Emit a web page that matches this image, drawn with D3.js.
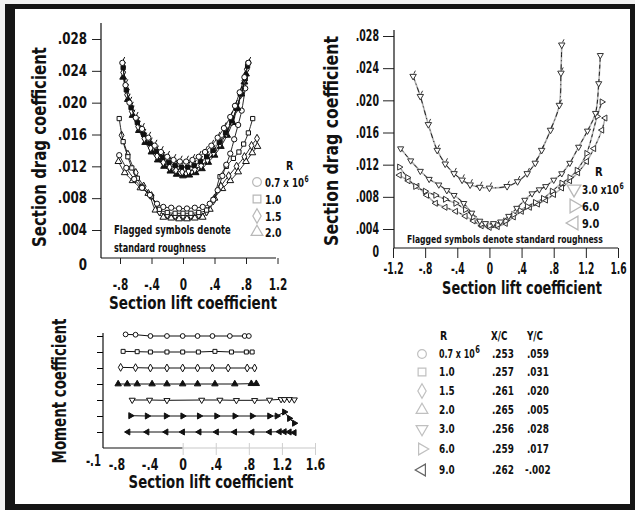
<!DOCTYPE html>
<html>
<head>
<meta charset="utf-8">
<script src="https://cdn.jsdelivr.net/npm/d3@7"></script>
<style>
  html, body { margin: 0; padding: 0; background: #fff; }
  svg { display: block; }
  text { font-family: 'DejaVu Sans Condensed', 'Liberation Sans Narrow', 'Arial Narrow', sans-serif; font-weight: bold; fill: #111; }
</style>
</head>
<body>
<script>
// ---------- tick values and labels ----------
const dragTicks = [0, 0.004, 0.008, 0.012, 0.016, 0.020, 0.024, 0.028];
const dragTickLabels = ["0", ".004", ".008", ".012", ".016", ".020", ".024", ".028"];
const liftTicksLeft = [-0.8, -0.4, 0, 0.4, 0.8, 1.2];
const liftLabelsLeft = ["-.8", "-.4", "0", ".4", ".8", "1.2"];
const liftTicksRight = [-1.2, -0.8, -0.4, 0, 0.4, 0.8, 1.2, 1.6];
const liftLabelsRight = ["-1.2", "-.8", "-.4", "0", ".4", ".8", "1.2", "1.6"];
const liftTicksMoment = [-0.8, -0.4, 0, 0.4, 0.8, 1.2, 1.6];
const liftLabelsMoment = ["-.8", "-.4", "0", ".4", ".8", "1.2", "1.6"];

// ---------- drag polars, R = 0.7 to 2.0 million: [cl, cd] ----------
const smooth07 = [[-0.81,.0134],[-0.72,.0118],[-0.62,.0104],[-0.52,.0093],[-0.42,.0084],[-0.33,.0073],[-0.25,.0069],[-0.15,.0068],[-0.05,.0067],[0.05,.0067],[0.15,.0068],[0.25,.0069],[0.34,.0073],[0.385,.0078],[0.44,.0090],[0.50,.0108],[0.55,.0122],[0.60,.0136],[0.65,.0154],[0.70,.0172],[0.745,.0190],[0.79,.0218],[0.83,.0250]];
const smooth10 = [[-0.81,.0180],[-0.76,.0151],[-0.70,.0132],[-0.65,.0118],[-0.58,.0105],[-0.52,.0094],[-0.40,.0082],[-0.30,.0066],[-0.20,.0062],[-0.10,.0061],[0.00,.0061],[0.10,.0061],[0.20,.0062],[0.30,.0065],[0.385,.0078],[0.47,.0107],[0.55,.0120],[0.64,.0130],[0.71,.0138],[0.77,.0148],[0.83,.0162],[0.885,.0180]];
const smooth15 = [[-0.78,.0159],[-0.70,.0135],[-0.60,.0112],[-0.50,.0095],[-0.40,.0083],[-0.30,.0063],[-0.20,.0059],[-0.10,.0058],[0.00,.0058],[0.10,.0058],[0.20,.0059],[0.30,.0063],[0.385,.0077],[0.48,.0095],[0.58,.0108],[0.68,.0120],[0.78,.0132],[0.87,.0146],[0.94,.0155]];
const smooth20 = [[-0.82,.0126],[-0.74,.0112],[-0.64,.0102],[-0.54,.0093],[-0.44,.0086],[-0.35,.0065],[-0.25,.0056],[-0.15,.0055],[-0.05,.0054],[0.05,.0054],[0.15,.0055],[0.25,.0056],[0.34,.0066],[0.40,.0080],[0.50,.0092],[0.60,.0102],[0.70,.0113],[0.80,.0126],[0.88,.0137],[0.945,.0145]];
const rough07 = [[-0.77,.0250],[-0.73,.0222],[-0.68,.0200],[-0.60,.0181],[-0.52,.0167],[-0.44,.0156],[-0.36,.0146],[-0.28,.0138],[-0.20,.0132],[-0.12,.0128],[-0.04,.0126],[0.04,.0126],[0.12,.0128],[0.20,.0132],[0.28,.0138],[0.36,.0146],[0.44,.0156],[0.52,.0168],[0.60,.0182],[0.66,.0196],[0.72,.0213],[0.78,.0232],[0.83,.0250]];
const rough10 = [[-0.76,.0244],[-0.72,.0216],[-0.66,.0194],[-0.58,.0175],[-0.50,.0160],[-0.42,.0149],[-0.34,.0139],[-0.26,.0131],[-0.18,.0125],[-0.10,.0121],[-0.02,.0119],[0.06,.0119],[0.14,.0121],[0.22,.0126],[0.30,.0132],[0.38,.0140],[0.46,.0150],[0.54,.0162],[0.62,.0177],[0.68,.0193],[0.74,.0211],[0.79,.0230],[0.82,.0246]];
const rough15 = [[-0.76,.0238],[-0.71,.0210],[-0.65,.0189],[-0.57,.0170],[-0.49,.0155],[-0.41,.0143],[-0.33,.0133],[-0.25,.0125],[-0.17,.0119],[-0.09,.0115],[-0.01,.0113],[0.07,.0114],[0.15,.0116],[0.23,.0121],[0.31,.0128],[0.39,.0137],[0.47,.0148],[0.55,.0161],[0.62,.0176],[0.68,.0193],[0.73,.0210],[0.78,.0228],[0.81,.0242]];
const rough20 = [[-0.76,.0232],[-0.70,.0204],[-0.64,.0184],[-0.56,.0165],[-0.48,.0150],[-0.40,.0138],[-0.32,.0128],[-0.24,.0120],[-0.16,.0114],[-0.08,.0110],[0.00,.0108],[0.08,.0109],[0.16,.0112],[0.24,.0117],[0.32,.0125],[0.40,.0134],[0.48,.0145],[0.56,.0159],[0.63,.0175],[0.69,.0193],[0.74,.0211],[0.78,.0226],[0.80,.0236]];

// ---------- drag polars, R = 3.0 to 9.0 million ----------
const smooth30 = [[-1.105,.0140],[-0.98,.0125],[-0.86,.0112],[-0.75,.0102],[-0.63,.0095],[-0.53,.0088],[-0.44,.0082],[-0.32,.0072],[-0.22,.0060],[-0.12,.0050],[-0.05,.0047],[0.05,.0047],[0.14,.0049],[0.24,.0056],[0.34,.0066],[0.44,.0076],[0.53,.0084],[0.62,.0089],[0.70,.0093],[0.80,.0101],[0.90,.0109],[1.00,.0122],[1.11,.0142],[1.22,.0162],[1.32,.0184],[1.36,.0221],[1.38,.0256]];
const smooth60 = [[-1.12,.0117],[-1.02,.0104],[-0.92,.0093],[-0.80,.0087],[-0.67,.0082],[-0.55,.0077],[-0.42,.0072],[-0.30,.0064],[-0.20,.0055],[-0.10,.0046],[0.00,.0044],[0.10,.0045],[0.20,.0050],[0.30,.0058],[0.38,.0063],[0.47,.0068],[0.57,.0073],[0.67,.0078],[0.78,.0087],[0.90,.0097],[1.00,.0104],[1.09,.0113],[1.21,.0134],[1.34,.0180],[1.40,.0198]];
const smooth90 = [[-1.12,.0107],[-1.01,.0100],[-0.90,.0093],[-0.78,.0082],[-0.67,.0072],[-0.55,.0067],[-0.42,.0062],[-0.30,.0056],[-0.20,.0050],[-0.10,.0044],[0.00,.0042],[0.10,.0043],[0.20,.0047],[0.30,.0055],[0.40,.0062],[0.50,.0067],[0.60,.0071],[0.70,.0076],[0.80,.0083],[0.90,.0091],[1.00,.0100],[1.10,.0110],[1.21,.0124],[1.30,.0140],[1.40,.0163],[1.44,.0178]];
const rough30 = [[-0.95,.0230],[-0.86,.0205],[-0.76,.0170],[-0.65,.0138],[-0.55,.0121],[-0.44,.0109],[-0.34,.0101],[-0.24,.0095],[-0.12,.0092],[0.00,.0091],[0.22,.0093],[0.35,.0099],[0.47,.0109],[0.57,.0122],[0.65,.0138],[0.76,.0163],[0.87,.0194],[0.89,.0234],[0.90,.0269]];

// ---------- pitching moment, one row per Reynolds number: [cl, cm] ----------
const moment07 = [[-0.69,.010],[-0.57,.008],[-0.39,0],[-0.19,0],[0,0],[0.18,0],[0.36,0],[0.57,0],[0.75,0],[0.80,0]];
const moment10 = [[-0.72,.004],[-0.55,.002],[-0.39,0],[-0.19,0],[0,0],[0.19,0],[0.39,.004],[0.59,0],[0.77,0],[0.84,0]];
const moment15 = [[-0.75,.004],[-0.57,.002],[-0.39,0],[-0.19,0],[0,0],[0.18,0],[0.36,0],[0.55,0],[0.78,0],[0.87,0]];
const moment20 = [[-0.78,0],[-0.67,0],[-0.55,0],[-0.37,0],[-0.19,0],[0,0],[0.18,0],[0.39,0],[0.63,0],[0.83,.002],[0.89,.002]];
const moment30 = [[-0.61,0],[-0.40,0],[-0.19,-.002],[0.23,0],[0.45,0],[0.65,-.002],[0.87,-.002],[1.05,0],[1.19,.004],[1.23,.004],[1.29,.004],[1.35,.002]];
const moment60 = [[-0.63,.002],[-0.43,0],[-0.20,0],[0,0],[0.20,0],[0.41,0],[0.63,0],[0.84,0],[1.05,0],[1.14,0],[1.23,.025],[1.29,-.015],[1.35,-.045]];
const moment90 = [[-0.66,0],[-0.43,0],[-0.20,0],[0,0],[0.20,0],[0.41,0],[0.63,0],[0.84,0],[1.05,0],[1.17,.002],[1.23,.002],[1.29,0],[1.35,-.004]];

// ---------- legend / table text ----------
const legendLeftR = ["0.7", "1.0", "1.5", "2.0"];
const legendRightR = ["3.0", "6.0", "9.0"];
const tableR = ["0.7", "1.0", "1.5", "2.0", "3.0", "6.0", "9.0"];
const tableXC = [".253", ".257", ".261", ".265", ".256", ".259", ".262"];
const tableYC = [".059", ".031", ".020", ".005", ".028", ".017", "-.002"];

// ---------- canvas and frame ----------
const W = 635, H = 510;
const svg = d3.select("body").append("svg").attr("width", W).attr("height", H);
svg.append("rect").attr("width", W).attr("height", H).attr("fill", "#f2f2f2");
svg.append("rect").attr("x", 5).attr("y", 4).attr("width", 630).attr("height", 506).attr("fill", "#151515");
svg.append("rect").attr("x", 15).attr("y", 9).attr("width", 615).attr("height", 495).attr("fill", "#fff");

// squeeze text horizontally (condensed face) around its anchor point
function fit(sel, f) {
  sel.each(function () {
    const el = d3.select(this);
    const x = +el.attr("x") || 0, y = +el.attr("y") || 0;
    el.attr("x", null).attr("y", null)
      .attr("transform", `translate(${x},${y}) scale(${f},1)`);
  });
}
// plain label with squeeze; returns its right edge
function label(parent, txt, x, y, size, f, anchor) {
  const t = parent.append("text").text(txt).attr("x", x).attr("y", y)
    .attr("font-size", size).attr("text-anchor", anchor || "start");
  const w = t.node().getComputedTextLength() * f;
  t.call(fit, f);
  return x + w;
}
// label followed by a superscript exponent
function labelExp(parent, txt, exp, x, y, size, f, expSize) {
  const end = label(parent, txt, x, y, size, f);
  label(parent, exp, end + 0.5, y - 5, expSize, f);
}

// ---------- marker helpers ----------
const shapes = {
  circle:  { type: d3.symbolCircle,   rot: 0 },
  square:  { type: d3.symbolSquare,   rot: 0 },
  diamond: { type: d3.symbolDiamond,  rot: 0 },
  up:      { type: d3.symbolTriangle, rot: 0 },
  down:    { type: d3.symbolTriangle, rot: 180 },
  right:   { type: d3.symbolTriangle, rot: 90 },
  left:    { type: d3.symbolTriangle, rot: -90 }
};
function marker(g, shape, cx, cy, size, st) {
  const s = shapes[shape];
  g.append("path")
    .attr("d", d3.symbol().type(s.type).size(size)())
    .attr("transform", `translate(${cx},${cy}) rotate(${s.rot})`)
    .attr("fill", st.fill || "#fff")
    .attr("stroke", st.stroke || "#111")
    .attr("stroke-width", st.sw || 1);
  if (st.flag) {
    const r = Math.sqrt(size) * 0.6;
    g.append("line")
      .attr("x1", cx + r * 0.3).attr("y1", cy - r)
      .attr("x2", cx + r * 0.3 + 1.5).attr("y2", cy - r - 3)
      .attr("stroke", st.stroke || "#111").attr("stroke-width", 1);
  }
}

function drawSeries(g, x, y, s) {
  const line = d3.line().x(d => x(d[0])).y(d => y(d[1])).curve(d3.curveCatmullRom.alpha(0.5));
  if (s.under) {
    g.append("path").attr("d", line(s.data)).attr("fill", "none")
      .attr("stroke", s.under).attr("stroke-width", 1.6);
  }
  g.append("path").attr("d", line(s.data)).attr("fill", "none")
    .attr("stroke", s.stroke).attr("stroke-width", s.width)
    .attr("stroke-dasharray", s.dash || null);
  s.data.forEach(d => marker(g, s.shape, x(d[0]), y(d[1]), s.size, s.marker));
}

// ---------- drag panel ----------
function dragPanel(p) {
  const x = d3.scaleLinear().domain(p.xDomain).range(p.xRange);
  const y = d3.scaleLinear().domain([0, 0.004, 0.028]).range(p.yRange);
  const g = svg.append("g");

  const ya = g.append("g").attr("transform", `translate(${p.axisX},0)`)
    .call(d3.axisLeft(y).tickValues(dragTicks)
      .tickFormat((d, i) => dragTickLabels[i]).tickSize(p.yTickLen).tickPadding(p.yPad))
    .attr("font-size", 15);
  ya.select(".domain").remove();
  ya.selectAll(".tick").filter(d => d === 0).select("line").remove();
  ya.selectAll(".tick").filter(d => d === 0).select("text").attr("dy", p.zeroDy);
  ya.selectAll(".tick line").attr("stroke", "#222");
  ya.selectAll("text").call(fit, p.yFit);

  const xa = g.append("g").attr("transform", `translate(0,${y(0)})`)
    .call(d3.axisBottom(x).tickValues(p.xTicks)
      .tickFormat((d, i) => p.xLabels[i]).tickSize(p.xTickLen).tickPadding(p.xPad))
    .attr("font-size", 15);
  xa.select(".domain").remove();
  xa.selectAll(".tick line").attr("stroke", "#222");
  xa.selectAll("text").call(fit, p.xFit);

  g.append("line").attr("x1", p.axisX).attr("x2", p.axisX)
    .attr("y1", p.axisTop).attr("y2", y(0)).attr("stroke", "#111").attr("stroke-width", 1.2);
  g.append("line").attr("x1", p.axisX).attr("x2", p.axisRight)
    .attr("y1", y(0)).attr("y2", y(0)).attr("stroke", "#111").attr("stroke-width", 1.2);

  p.series.forEach(s => drawSeries(g, x, y, s));
  return { x, y, g };
}

const openM = { fill: "#fff", stroke: "#111" };
const darkM = { fill: "#111", stroke: "#111", flag: true };
const flagOpen = { fill: "#fff", stroke: "#111", flag: true };

dragPanel({
  xDomain: [-0.8, 1.2], xRange: [120, 277.5],
  yRange: [258, 230, 39],
  axisX: 101, axisTop: 23, axisRight: 276,
  yTickLen: 9, yPad: 5, zeroDy: "0.75em", yFit: 0.88,
  xTicks: liftTicksLeft, xLabels: liftLabelsLeft, xTickLen: 6, xPad: 15, xFit: 0.78,
  series: [
    { data: smooth20, shape: "up",      size: 20, stroke: "#111", width: 0.9, marker: openM },
    { data: smooth15, shape: "diamond", size: 20, stroke: "#111", width: 0.9, marker: openM },
    { data: smooth10, shape: "square",  size: 18, stroke: "#111", width: 0.9, marker: openM },
    { data: smooth07, shape: "circle",  size: 22, stroke: "#111", width: 0.9, marker: openM },
    { data: rough20,  shape: "up",      size: 20, stroke: "#111", width: 0.9, marker: darkM },
    { data: rough15,  shape: "diamond", size: 20, stroke: "#111", width: 0.9, marker: flagOpen },
    { data: rough10,  shape: "square",  size: 18, stroke: "#111", width: 0.9, marker: darkM },
    { data: rough07,  shape: "circle",  size: 22, stroke: "#111", width: 0.9, marker: flagOpen }
  ]
});

dragPanel({
  xDomain: [-1.2, 1.6], xRange: [393, 618],
  yRange: [248, 229, 36],
  axisX: 394, axisTop: 30, axisRight: 618,
  yTickLen: 11, yPad: 4, zeroDy: "0.55em", yFit: 0.7,
  xTicks: liftTicksRight, xLabels: liftLabelsRight, xTickLen: 10, xPad: 5, xFit: 0.68,
  series: [
    { data: smooth90, shape: "left",  size: 16, stroke: "#222", under: "#b5b5b5", width: 1, dash: "2,4", marker: { fill: "#fff", stroke: "#333" } },
    { data: smooth60, shape: "right", size: 16, stroke: "#222", under: "#b5b5b5", width: 1, dash: "3,3", marker: { fill: "#fff", stroke: "#333" } },
    { data: smooth30, shape: "down",  size: 16, stroke: "#222", under: "#b5b5b5", width: 1, dash: "4,3", marker: { fill: "#fff", stroke: "#333" } },
    { data: rough30,  shape: "down",  size: 18, stroke: "#222", under: "#b0b0b0", width: 1, dash: "5,3,1,3", marker: { fill: "#fff", stroke: "#333", flag: true } }
  ]
});

// ---------- axis titles (squeezed to a set length) ----------
function title(txt, x, y, size, len, rotate) {
  const t = svg.append("text").text(txt).attr("text-anchor", "middle").attr("font-size", size);
  const f = len / t.node().getComputedTextLength();
  t.attr("transform", `translate(${x},${y})` + (rotate ? " rotate(-90)" : "") + ` scale(${f},1)`);
}
title("Section drag coefficient", 46, 147, 19, 200, true);
title("Section lift coefficient", 193, 309, 18, 168, false);
title("Section drag coefficient", 338, 141, 19, 210, true);
title("Section lift coefficient", 522, 294, 18, 160, false);
title("Moment coefficient", 66, 391, 19, 145, true);
title("Section lift coefficient", 211, 488, 18, 165, false);

// ---------- drag legends ----------
const legendLeftShapes = ["circle", "square", "diamond", "up"];
const legendLeftY = [182, 199, 216, 232];
label(svg, "R", 286, 170, 13, 0.8);
legendLeftR.forEach((r, i) => {
  marker(svg, legendLeftShapes[i], 257, legendLeftY[i], 60, { fill: "#fff", stroke: "#b8b8b8", sw: 1.2 });
  if (i === 0) labelExp(svg, r + " x 10", "6", 265, legendLeftY[i] + 5, 13, 0.74, 9);
  else label(svg, r, 265, legendLeftY[i] + 5, 13, 0.8);
});
function fixedText(txt, x, y, size, len) {
  const t = svg.append("text").text(txt).attr("font-size", size);
  const f = len / t.node().getComputedTextLength();
  t.attr("transform", `translate(${x},${y}) scale(${f},1)`);
}
fixedText("Flagged symbols denote", 114, 234, 12, 117);
fixedText("standard roughness", 114, 252, 12, 92);

const legendRightShapes = ["down", "right", "left"];
const legendRightY = [189, 206, 223];
label(svg, "R", 595, 176, 13, 0.85);
legendRightR.forEach((r, i) => {
  marker(svg, legendRightShapes[i], 574, legendRightY[i], 80, { fill: "#fff", stroke: "#b8b8b8", sw: 1.3 });
  if (i === 0) labelExp(svg, r + " x10", "6", 582, legendRightY[i] + 5, 13, 0.76, 9);
  else label(svg, r, 582, legendRightY[i] + 5, 13, 0.84);
});
fixedText("Flagged symbols denote standard roughness", 407, 243, 11, 196);

// ---------- moment panel ----------
(function () {
  const x = d3.scaleLinear().domain([-0.8, 1.6]).range([116.5, 315]);
  const y = d3.scaleLinear().domain([-0.1, 0.6]).range([448, 336]);
  const g = svg.append("g");
  const rows = [
    { data: moment07, shape: "circle",  m: openM, size: 18 },
    { data: moment10, shape: "square",  m: openM, size: 16 },
    { data: moment15, shape: "diamond", m: openM, size: 18 },
    { data: moment20, shape: "up",      m: { fill: "#111", stroke: "#111" }, size: 18 },
    { data: moment30, shape: "down",    m: { fill: "#fff", stroke: "#111" }, size: 16 },
    { data: moment60, shape: "right",   m: { fill: "#111", stroke: "#111" }, size: 16 },
    { data: moment90, shape: "left",    m: { fill: "#111", stroke: "#111" }, size: 16 }
  ];
  // each row is stacked 0.1 apart so the curves do not overlap
  const rowBase = i => 0.6 - 0.1 * i;

  const ya = g.append("g").attr("transform", "translate(103,0)")
    .call(d3.axisLeft(y).tickValues(rows.map((r, i) => rowBase(i))).tickFormat("").tickSize(6));
  ya.select(".domain").remove();
  g.append("line").attr("x1", 103).attr("x2", 103).attr("y1", 333).attr("y2", y(-0.1))
    .attr("stroke", "#111").attr("stroke-width", 1.2);
  g.append("line").attr("x1", 103).attr("x2", x(0)).attr("y1", y(-0.1)).attr("y2", y(-0.1))
    .attr("stroke", "#111").attr("stroke-width", 1.2);
  g.append("line").attr("x1", x(0)).attr("x2", 316).attr("y1", y(-0.1)).attr("y2", y(-0.1))
    .attr("stroke", "#c8c8c8").attr("stroke-width", 1.2);

  const xa = g.append("g").attr("transform", `translate(0,${y(-0.1) - 5})`)
    .call(d3.axisBottom(x).tickValues(liftTicksMoment)
      .tickFormat((d, i) => liftLabelsMoment[i]).tickSize(12).tickPadding(4))
    .attr("font-size", 15);
  xa.select(".domain").remove();
  xa.selectAll(".tick line").attr("stroke", d => d >= 0 ? "#cfcfcf" : "none");
  xa.selectAll("text").call(fit, 0.82);
  label(g, "-.1", 101, 466, 15, 0.75, "end");

  rows.forEach((r, i) => {
    const b = rowBase(i);
    const line = d3.line().x(d => x(d[0])).y(d => y(b + d[1]));
    g.append("path").attr("d", line(r.data)).attr("fill", "none").attr("stroke", "#111").attr("stroke-width", 1);
    r.data.forEach(d => marker(g, r.shape, x(d[0]), y(b + d[1]), r.size, r.m));
  });
})();

// ---------- moment legend table ----------
const tableShapes = ["circle", "square", "diamond", "up", "down", "right", "left"];
const tableY = [353, 371, 390, 409, 428, 448, 469];
label(svg, "R", 440, 340, 13, 0.8);
label(svg, "X/C", 491, 340, 13, 0.75);
label(svg, "Y/C", 527, 340, 13, 0.75);
tableR.forEach((r, i) => {
  const cy = tableY[i];
  marker(svg, tableShapes[i], 422, cy + 1, 60,
    { fill: "#fff", stroke: i === 6 ? "#666" : "#c0c0c0", sw: 1.2 });
  if (i === 0) labelExp(svg, r + " x 10", "6", 439, cy + 5, 13, 0.68, 11);
  else label(svg, r, 439, cy + 5, 13, 0.76);
  label(svg, tableXC[i], 492, cy + 5, 13, 0.76);
  label(svg, tableYC[i], i === 6 ? 525 : 527, cy + 5, 13, 0.76);
});
</script>
</body>
</html>
